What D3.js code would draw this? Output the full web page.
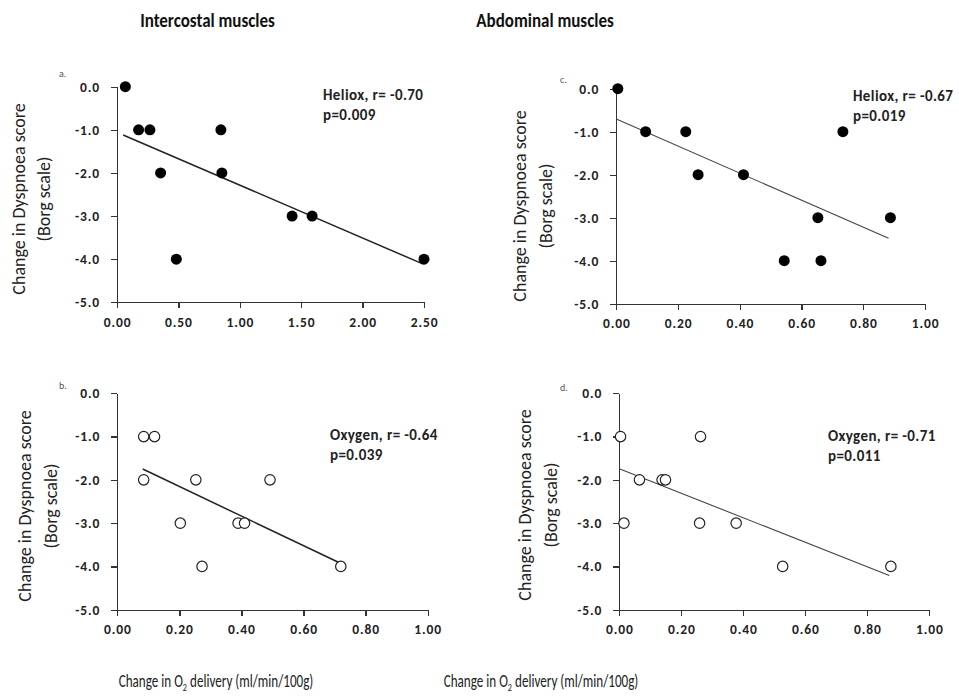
<!DOCTYPE html>
<html>
<head>
    <title>Dyspnoea vs O2 delivery</title>
    <script src="https://d3js.org/d3.v7.min.js"></script>
    <style>
        body { margin: 0; background: #fff; }
        svg { font-family: Carlito, Calibri, Lato, sans-serif; }
        .axis path, .axis line { stroke: #333; stroke-width: 1.3; shape-rendering: crispEdges; }
        .axis text { font-size: 13.5px; font-weight: bold; fill: #222; letter-spacing: 0.9px;
                     font-family: Carlito, Calibri, Lato, sans-serif; }
        .ytitle { font-size: 18px; fill: #222; }
        .note { font-size: 15px; font-weight: bold; fill: #222; letter-spacing: 0.4px; }
        .tag { font-size: 10px; fill: #555; }
    </style>
</head>
<body>
    <svg width="959" height="698"></svg>
    <script>
        // tick values
        const yTicks = [0, -1, -2, -3, -4, -5];
        const xTicksWide = [0, 0.5, 1.0, 1.5, 2.0, 2.5];
        const xTicksUnit = [0, 0.2, 0.4, 0.6, 0.8, 1.0];

        // a. intercostal, heliox
        const aX = [0.068, 0.176, 0.268, 0.355, 0.483, 0.846, 0.854, 1.426, 1.589, 2.50];
        const aY = [0, -1, -1, -2, -4, -1, -2, -3, -3, -4];
        const aFit = [[0.05, -1.12], [2.49, -4.11]];

        // b. intercostal, oxygen
        const bX = [0.085, 0.120, 0.085, 0.253, 0.492, 0.203, 0.389, 0.410, 0.273, 0.720];
        const bY = [-1, -1, -2, -2, -2, -3, -3, -3, -4, -4];
        const bFit = [[0.082, -1.75], [0.714, -3.91]];

        // c. abdominal, heliox
        const cX = [0.005, 0.095, 0.225, 0.265, 0.412, 0.544, 0.653, 0.663, 0.734, 0.888];
        const cY = [0, -1, -1, -2, -2, -4, -3, -4, -1, -3];
        const cFit = [[0.0, -0.705], [0.882, -3.48]];

        // d. abdominal, oxygen
        const dX = [0.004, 0.262, 0.065, 0.138, 0.149, 0.015, 0.259, 0.377, 0.527, 0.876];
        const dY = [-1, -1, -2, -2, -2, -3, -3, -3, -4, -4];
        const dFit = [[0.002, -1.75], [0.871, -4.21]];

        const svg = d3.select("svg");

        const panels = [
            { tag: "a.", xs: aX, ys: aY, fit: aFit, xMax: 2.5, xTicks: xTicksWide, filled: true,
              note: ["Heliox, r= -0.70", "p=0.009"], fitW: 1.5,
              left: 117, right: 424, top: 86.7, bottom: 302.3,
              tagPos: [59, 77], notePos: [323, 100], titleX: 24.5, titleY: 199 },
            { tag: "c.", xs: cX, ys: cY, fit: cFit, xMax: 1, xTicks: xTicksUnit, filled: true,
              note: ["Heliox, r= -0.67", "p=0.019"], fitW: 1.1,
              left: 616.3, right: 925, top: 88.7, bottom: 303.7,
              tagPos: [560, 83], notePos: [853, 101], titleX: 526, titleY: 206 },
            { tag: "b.", xs: bX, ys: bY, fit: bFit, xMax: 1, xTicks: xTicksUnit, filled: false,
              note: ["Oxygen, r= -0.64", "p=0.039"], fitW: 1.5,
              left: 117.3, right: 427.7, top: 393.3, bottom: 609.7,
              tagPos: [59, 389], notePos: [330, 440], titleX: 31, titleY: 506 },
            { tag: "d.", xs: dX, ys: dY, fit: dFit, xMax: 1, xTicks: xTicksUnit, filled: false,
              note: ["Oxygen, r= -0.71", "p=0.011"], fitW: 1.1,
              left: 619.3, right: 929.3, top: 393.3, bottom: 609.7,
              tagPos: [560, 391], notePos: [828, 441], titleX: 531, titleY: 505 }
        ];

        panels.forEach(p => {
            const x = d3.scaleLinear().domain([0, p.xMax]).range([p.left, p.right]);
            const y = d3.scaleLinear().domain([-5, 0]).range([p.bottom, p.top]);
            const g = svg.append("g");

            g.append("g")
                .attr("class", "axis")
                .attr("transform", `translate(0, ${p.bottom})`)
                .call(d3.axisBottom(x).tickValues(p.xTicks).tickSize(6).tickSizeOuter(0)
                    .tickPadding(9).tickFormat(d => d.toFixed(2)));

            g.append("g")
                .attr("class", "axis")
                .attr("transform", `translate(${p.left}, 0)`)
                .call(d3.axisLeft(y).tickValues(yTicks).tickSize(6).tickSizeOuter(0)
                    .tickPadding(11).tickFormat(d => d.toFixed(1)));

            // regression line
            g.append("line")
                .attr("x1", x(p.fit[0][0])).attr("y1", y(p.fit[0][1]))
                .attr("x2", x(p.fit[1][0])).attr("y2", y(p.fit[1][1]))
                .attr("stroke", p.fitW > 1.2 ? "#222" : "#444")
                .attr("stroke-width", p.fitW);

            // points
            g.selectAll("circle")
                .data(p.xs.map((v, i) => [v, p.ys[i]]))
                .enter().append("circle")
                .attr("cx", d => x(d[0]))
                .attr("cy", d => y(d[1]))
                .attr("r", p.filled ? 5.5 : 5.2)
                .attr("fill", p.filled ? "#000" : "#fff")
                .attr("stroke", "#222")
                .attr("stroke-width", p.filled ? 0 : 1.2);

            g.append("text").attr("class", "tag")
                .attr("x", p.tagPos[0]).attr("y", p.tagPos[1]).text(p.tag);

            p.note.forEach((t, i) => {
                g.append("text").attr("class", "note")
                    .attr("x", p.notePos[0]).attr("y", p.notePos[1] + i * 20).text(t);
            });

            const yt = g.append("text").attr("class", "ytitle")
                .attr("transform", `translate(${p.titleX}, ${p.titleY}) rotate(-90)`)
                .attr("text-anchor", "middle");
            yt.append("tspan").attr("x", 0).attr("y", 0).text("Change in Dyspnoea score");
            yt.append("tspan").attr("x", 0).attr("y", 25.5).text("(Borg scale)");
        });

        // column titles (font is condensed in the original)
        const heads = [["Intercostal muscles", 207.5], ["Abdominal muscles", 545]];
        heads.forEach(h => {
            svg.append("text")
                .attr("transform", `translate(${h[1]}, 27) scale(0.85, 1)`)
                .attr("text-anchor", "middle")
                .style("font-size", "20px").style("font-weight", "bold").style("fill", "#111")
                .text(h[0]);
        });

        // x axis titles
        [216, 541].forEach(cx => {
            const t = svg.append("text")
                .attr("transform", `translate(${cx}, 687) scale(0.75, 1)`)
                .attr("text-anchor", "middle")
                .style("font-size", "17.5px").style("fill", "#222");
            t.append("tspan").text("Change in O");
            t.append("tspan").attr("dy", 4).style("font-size", "11px").text("2");
            t.append("tspan").attr("dy", -4).text(" delivery (ml/min/100g)");
        });
    </script>
</body>
</html>
